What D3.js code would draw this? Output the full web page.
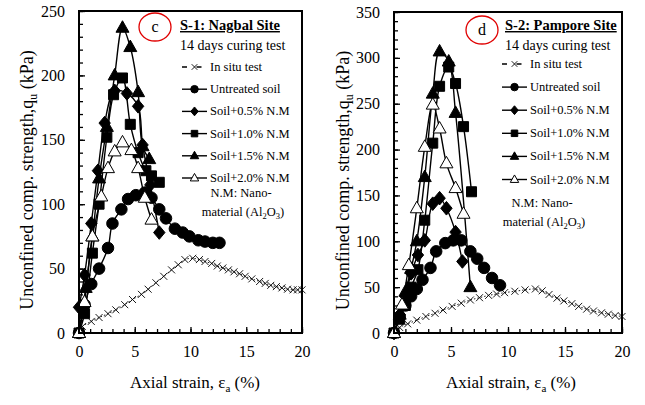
<!DOCTYPE html>
<html>
<head>
<meta charset="utf-8">
<script src="https://cdn.jsdelivr.net/npm/d3@7"></script>
<style>
	body { margin: 0; background: #fff; }
	svg { display: block; font-family: "Liberation Serif", "Times New Roman", serif; }
</style>
</head>
<body>
<svg id="chart" width="645" height="405"></svg>
<script>
'use strict';

// axial strain (%) ticks and strength (kPa) ticks
var strainTicks = [0, 5, 10, 15, 20];
var s1StrengthTicks = [0, 50, 100, 150, 200, 250];
var s2StrengthTicks = [0, 50, 100, 150, 200, 250, 300, 350];

var seriesNames = ['In situ test', 'Untreated soil', 'Soil+0.5% N.M', 'Soil+1.0% N.M', 'Soil+1.5% N.M', 'Soil+2.0% N.M'];

// S-1 Nagbal site, [strain, qu]
var s1InSitu = [[0, 0], [0.3, 5], [1.1, 9], [1.8, 12], [2.6, 15], [3.3, 18], [4.1, 22], [4.8, 26], [5.6, 30], [6.2, 34],
	[6.9, 39], [7.6, 44], [8.3, 49], [8.9, 53], [9.5, 57], [10.2, 58], [10.8, 57], [11.3, 55.5], [11.9, 54], [12.4, 52],
	[12.9, 50.5], [13.4, 49], [13.9, 47.5], [14.4, 46], [14.9, 44], [15.5, 42], [16.2, 40], [16.7, 38.5], [17.2, 37],
	[17.7, 36], [18.2, 35], [18.7, 34], [19.2, 33.5], [19.6, 33.5], [20, 33.5]];
var s1Untreated = [[0, 0], [0.5, 22], [1.1, 38], [1.8, 50], [2.6, 66], [3.0, 85], [3.8, 96], [4.4, 104], [5.1, 107],
	[5.9, 109], [6.5, 105], [7.2, 96], [7.8, 89], [8.6, 81], [9.3, 78], [9.9, 75], [10.7, 72], [11.3, 71], [12.0, 70], [12.6, 70]];
var s1Nm05 = [[0, 20], [0.5, 45], [1.1, 85], [1.7, 126], [2.3, 163], [3.2, 188], [4.3, 186], [5.3, 176], [5.7, 146],
	[6.4, 115], [7.2, 78]];
var s1Nm10 = [[0, 0], [0.5, 15], [1.2, 62], [1.8, 100], [2.5, 152], [3.1, 185], [3.9, 198], [4.6, 162], [5.3, 140],
	[6.0, 126], [6.5, 122], [7.2, 117]];
var s1Nm15 = [[0, 0], [0.6, 35], [1.2, 75], [1.8, 120], [2.5, 160], [3.2, 200], [3.9, 237], [4.6, 222], [5.3, 187],
	[5.7, 145], [6.3, 135]];
var s1Nm20 = [[0, 0], [0.5, 24], [1.2, 75], [2.0, 106], [2.6, 128], [3.2, 141], [3.9, 148], [4.7, 142], [5.3, 128],
	[5.9, 105], [6.5, 88]];

// S-2 Pampore site
var s2InSitu = [[0, 0], [0.5, 6], [1.2, 10], [2.0, 14], [2.8, 18], [3.6, 21.5], [4.3, 25], [5.1, 29], [5.9, 32.5],
	[6.7, 36], [7.5, 38.5], [8.3, 41], [9.0, 42.5], [9.7, 44], [10.6, 45.5], [11.5, 47], [12.4, 48], [13.0, 46],
	[13.6, 42], [14.3, 38], [14.9, 35], [15.6, 32], [16.2, 29], [16.9, 26], [17.5, 24], [18.2, 22], [18.8, 20.5],
	[19.4, 19], [20, 18]];
var s2Untreated = [[0, 0], [0.5, 18], [1.0, 30], [1.5, 40], [2.0, 48], [2.5, 58], [3.2, 71], [3.7, 89], [4.5, 98],
	[5.2, 101], [5.9, 101], [6.7, 89], [7.3, 81], [7.9, 71], [8.6, 60], [9.3, 52]];
var s2Nm05 = [[0, 0], [0.5, 20], [1.0, 40], [1.5, 65], [2.1, 85], [2.7, 101], [3.4, 141], [4.0, 147], [4.6, 136],
	[5.4, 110], [6.0, 78]];
var s2Nm10 = [[0, 0], [0.5, 15], [1.0, 30], [1.5, 50], [2.1, 69], [2.7, 123], [3.4, 207], [4.0, 269], [4.8, 290],
	[5.4, 272], [6.1, 225], [6.8, 154]];
var s2Nm15 = [[0, 0], [0.5, 20], [1.0, 45], [1.5, 70], [2.0, 100], [2.7, 170], [3.4, 261], [4.0, 307], [4.8, 296],
	[5.4, 240], [6.7, 50]];
var s2Nm20 = [[0, 0], [0.7, 31], [1.3, 74], [2.0, 136], [2.7, 203], [3.4, 249], [4.0, 223], [4.6, 185], [5.4, 158],
	[6.1, 130]];

var markerTypes = ['cross', 'circle', 'diamond', 'square', 'triangle', 'triangleOpen'];

var panels = [{
	title: 'S-1: Nagbal Site',
	tag: 'c',
	yTicks: s1StrengthTicks,
	series: [s1InSitu, s1Untreated, s1Nm05, s1Nm10, s1Nm15, s1Nm20],
	box: { l: 79, r: 302, t: 11, b: 333 },
	tagPos: [155, 27],
	textX: 180,
	legend: { x: 182, y: 67, dy: 22.2 },
	note: { x: 241, y: 197 },
	yLabelX: 33,
	xLabelX: 195
}, {
	title: 'S-2: Pampore Site',
	tag: 'd',
	yTicks: s2StrengthTicks,
	series: [s2InSitu, s2Untreated, s2Nm05, s2Nm10, s2Nm15, s2Nm20],
	box: { l: 394, r: 622, t: 12, b: 333 },
	tagPos: [482, 30],
	textX: 505,
	legend: { x: 502, y: 64, dy: 23.1 },
	note: { x: 542, y: 207 },
	yLabelX: 349,
	xLabelX: 511
}];

var svg = d3.select('#chart');

var markerPath = function(type, k) {
	switch (type) {
		case 'cross':
			return 'M' + (-3.5 * k) + ',' + (-3.5 * k) + 'L' + (3.5 * k) + ',' + (3.5 * k) + 'M' + (-3.5 * k) + ',' + (3.5 * k) + 'L' + (3.5 * k) + ',' + (-3.5 * k);
		case 'circle':
			return d3.symbol(d3.symbolCircle, 105 * k * k)();
		case 'diamond':
			return 'M0,' + (-6.8 * k) + 'L' + (5.7 * k) + ',0L0,' + (6.8 * k) + 'L' + (-5.7 * k) + ',0Z';
		case 'square':
			return d3.symbol(d3.symbolSquare, 100 * k * k)();
		default:
			return 'M0,' + (-7 * k) + 'L' + (6.5 * k) + ',' + (4.5 * k) + 'L' + (-6.5 * k) + ',' + (4.5 * k) + 'Z';
	}
};

var styleMarker = function(sel, type) {
	if (type === 'cross') {
		sel.attr('fill', 'none').attr('stroke', '#000').attr('stroke-width', 0.9);
	} else if (type === 'triangleOpen') {
		sel.attr('fill', '#fff').attr('stroke', '#000').attr('stroke-width', 1);
	} else {
		sel.attr('fill', '#000').attr('stroke', '#000').attr('stroke-width', 1);
	}
};

var cleanAxis = function(a) {
	a.attr('font-family', null).attr('font-size', null);
	a.select('.domain').remove();
	a.selectAll('text').attr('font-size', 16);
};

panels.forEach(function(p) {
	var g = svg.append('g');
	var x = d3.scaleLinear().domain([0, 20]).range([p.box.l, p.box.r]);
	var yMax = p.yTicks[p.yTicks.length - 1];
	var y = d3.scaleLinear().domain([0, yMax]).range([p.box.b, p.box.t]);

	// minor ticks
	g.append('g')
		.attr('transform', 'translate(' + p.box.l + ',0)')
		.call(d3.axisLeft(y).tickValues(d3.range(0, yMax + 1, 10)).tickSize(-4).tickFormat(''))
		.call(cleanAxis);
	g.append('g')
		.attr('transform', 'translate(0,' + p.box.b + ')')
		.call(d3.axisBottom(x).tickValues(d3.range(0, 21, 1)).tickSize(-4).tickFormat(''))
		.call(cleanAxis);

	// major ticks + labels
	g.append('g')
		.attr('transform', 'translate(' + p.box.l + ',0)')
		.call(d3.axisLeft(y).tickValues(p.yTicks).tickSize(-6).tickPadding(14))
		.call(cleanAxis);
	g.append('g')
		.attr('transform', 'translate(0,' + p.box.b + ')')
		.call(d3.axisBottom(x).tickValues(strainTicks).tickSize(-6).tickPadding(13))
		.call(cleanAxis);
	g.selectAll('.tick line').attr('stroke-width', 1.3);

	// series lines
	var line = d3.line()
		.x(function(d) { return x(d[0]); })
		.y(function(d) { return y(d[1]); })
		.curve(d3.curveCatmullRom.alpha(0.5));

	p.series.forEach(function(data, i) {
		var type = markerTypes[i];
		g.append('path')
			.datum(data)
			.attr('d', line)
			.attr('fill', 'none')
			.attr('stroke', '#000')
			.attr('stroke-width', i === 0 ? 0.9 : 1.4)
			.attr('stroke-dasharray', i === 0 ? '1.5,2' : null);
		g.append('g').selectAll('path')
			.data(data)
			.enter()
			.append('path')
			.attr('transform', function(d) { return 'translate(' + x(d[0]) + ',' + y(d[1]) + ')'; })
			.attr('d', markerPath(type, 1))
			.call(styleMarker, type);
	});

	// frame
	g.append('rect')
		.attr('x', p.box.l).attr('y', p.box.t)
		.attr('width', p.box.r - p.box.l).attr('height', p.box.b - p.box.t)
		.attr('fill', 'none').attr('stroke', '#000').attr('stroke-width', 2);

	// panel tag
	g.append('ellipse')
		.attr('cx', p.tagPos[0]).attr('cy', p.tagPos[1])
		.attr('rx', 16).attr('ry', 14)
		.attr('fill', 'none').attr('stroke', '#e00000').attr('stroke-width', 1.3);
	g.append('text')
		.attr('x', p.tagPos[0]).attr('y', p.tagPos[1] + 5)
		.attr('text-anchor', 'middle').attr('font-size', 16)
		.text(p.tag);

	g.append('text')
		.attr('x', p.textX).attr('y', 30)
		.attr('font-size', 14.5).attr('font-weight', 'bold')
		.style('text-decoration', 'underline')
		.text(p.title);
	g.append('text')
		.attr('x', p.textX).attr('y', 50)
		.attr('font-size', 14)
		.text('14 days curing test');

	// legend
	var lg = g.append('g');
	seriesNames.forEach(function(name, i) {
		var type = markerTypes[i];
		var ly = p.legend.y + i * p.legend.dy;
		lg.append('line')
			.attr('x1', p.legend.x).attr('x2', p.legend.x + 25)
			.attr('y1', ly).attr('y2', ly)
			.attr('stroke', '#000')
			.attr('stroke-width', 1.4)
			.attr('stroke-dasharray', i === 0 ? '5,9.5' : null);
		lg.append('path')
			.attr('transform', 'translate(' + (p.legend.x + 12.5) + ',' + ly + ')')
			.attr('d', markerPath(type, i === 0 ? 0.8 : 0.65))
			.call(styleMarker, type);
		lg.append('text')
			.attr('x', p.legend.x + 28).attr('y', ly + 4)
			.attr('font-size', 12.5)
			.text(name);
	});

	var note = g.append('text')
		.attr('text-anchor', 'middle')
		.attr('font-size', 12.5);
	note.append('tspan').attr('x', p.note.x).attr('y', p.note.y).text('N.M: Nano-');
	var l2 = note.append('tspan').attr('x', p.note.x + 2).attr('y', p.note.y + 19);
	l2.append('tspan').text('material (Al');
	l2.append('tspan').attr('font-size', 8.5).attr('dy', 3).text('2');
	l2.append('tspan').attr('dy', -3).text('O');
	l2.append('tspan').attr('font-size', 8.5).attr('dy', 3).text('3');
	l2.append('tspan').attr('dy', -3).text(')');

	// axis titles
	var yl = g.append('text')
		.attr('transform', 'translate(' + p.yLabelX + ',' + ((p.box.t + p.box.b) / 2 + 8) + ') rotate(-90)')
		.attr('text-anchor', 'middle')
		.attr('font-size', 18);
	yl.append('tspan').text('Unconfined comp. strength,q');
	yl.append('tspan').attr('font-size', 12).attr('dy', 4).text('u');
	yl.append('tspan').attr('dy', -4).text('  (kPa)');

	var xl = g.append('text')
		.attr('x', p.xLabelX).attr('y', 388)
		.attr('text-anchor', 'middle')
		.attr('font-size', 17);
	xl.append('tspan').text('Axial strain, \u03b5');
	xl.append('tspan').attr('font-size', 11).attr('dy', 4).text('a');
	xl.append('tspan').attr('dy', -4).text(' (%)');
});
</script>
</body>
</html>
